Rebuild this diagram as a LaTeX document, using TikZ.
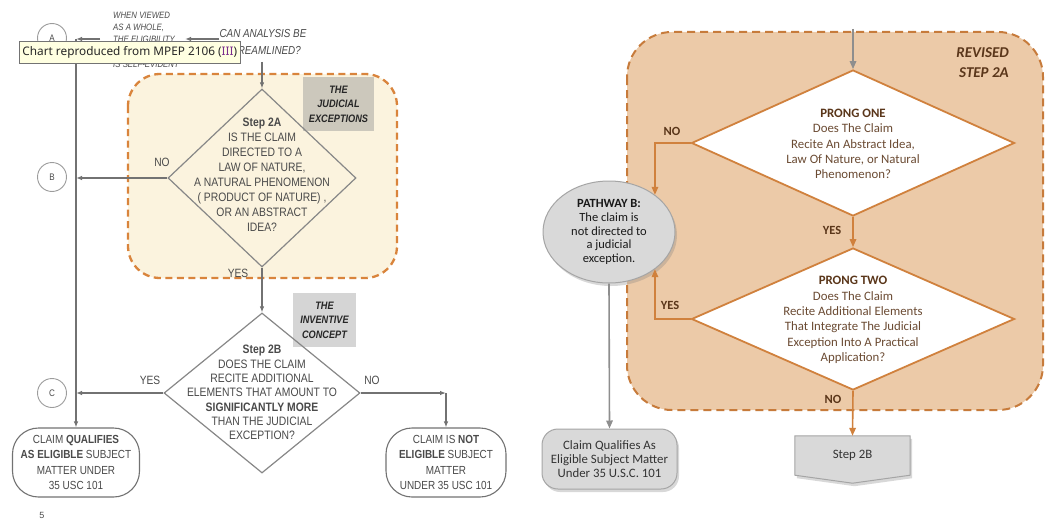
\documentclass[tikz,border=0pt]{standalone}
\usepackage{fontspec}
\setmainfont{Liberation Sans}
\newfontfamily\narrowf[FakeStretch=0.85]{Liberation Sans}
\newfontfamily\calib{Carlito}
\newfontfamily\tipf{Noto Sans}
\usetikzlibrary{shapes.geometric,arrows.meta,calc,shadows}
\definecolor{lline}{HTML}{727272}
\definecolor{ltext}{HTML}{4A4A4A}
\definecolor{cream}{HTML}{FBF3DE}
\definecolor{dorange}{HTML}{D9843C}
\definecolor{tagjc}{HTML}{CCC8BC}
\definecolor{tagic}{HTML}{D5D5D5}
\definecolor{tanfill}{HTML}{ECCAA8}
\definecolor{rorange}{HTML}{D0813D}
\definecolor{rdash}{HTML}{C77B3B}
\definecolor{brownc}{HTML}{5A361A}
\definecolor{rtext}{HTML}{6B4B33}
\definecolor{boxgray}{HTML}{D9D9D9}
\definecolor{edgegray}{HTML}{8E8E8E}
\definecolor{tipbg}{HTML}{FFFFE1}
\definecolor{tipiii}{HTML}{7B2D8E}
\begin{document}
\begin{tikzpicture}[x=1pt,y=-1pt,
  lpath/.style={draw=lline, line width=1.1pt},
  larrow/.style={lpath, -{Latex[length=6pt,width=4.5pt]}},
  lcirc/.style={circle, draw=lline!70, line width=0.9pt, minimum size=29pt, inner sep=0pt, font=\narrowf\fontsize{9.5}{9.5}\selectfont, text=ltext},
  ltxt/.style={font=\narrowf\fontsize{12.2}{15}\selectfont, text=ltext, align=center, inner sep=0pt},
  llab/.style={font=\narrowf\fontsize{12}{12}\selectfont, text=ltext, inner sep=0pt},
  ldia/.style={diamond, draw=lline!85, line width=1.2pt, inner sep=0pt},
  ltermbox/.style={draw=lline, line width=1.1pt, rounded corners=26pt, inner sep=0pt, fill=white, align=center, text=ltext, font=\narrowf\fontsize{11.7}{15.3}\selectfont},
  tagbox/.style={inner sep=0pt, font=\narrowf\bfseries\itshape\fontsize{10.8}{14.5}\selectfont, text=black!85, align=center},
  rarrow/.style={draw=rorange, line width=1.6pt, -{Triangle[length=8pt,width=6.5pt]}},
  garrow/.style={draw=edgegray, line width=1.6pt, -{Triangle[length=8pt,width=6.5pt]}},
  rdia/.style={diamond, draw=rorange, line width=1.8pt, fill=white, inner sep=0pt},
  rtxt/.style={font=\calib\fontsize{12.8}{15.3}\selectfont, text=rtext, align=center, inner sep=0pt},
  rlab/.style={font=\calib\bfseries\fontsize{12.5}{12.5}\selectfont, text=brownc, inner sep=0pt},
  gshape/.style={fill=boxgray, draw=edgegray!80, line width=1pt},
  shadowed/.style={drop shadow={opacity=0.3, shadow xshift=2pt, shadow yshift=-3pt}},
]
\useasboundingbox (0,0) rectangle (1046,527);
\fill[white] (0,0) rectangle (1046,527);

% ================= LEFT CHART =================
\draw[draw=dorange, fill=cream, line width=2.3pt, dash pattern=on 7pt off 4.5pt, rounded corners=32pt] (128,74) rectangle (397,278);
\node[tagbox, fill=tagjc, minimum width=71pt, minimum height=54pt] (tagj) at (338.5,104) {THE\\JUDICIAL\\EXCEPTIONS};
\node[tagbox, fill=tagic, minimum width=63pt, minimum height=54pt] (tagi) at (324.5,320) {THE\\INVENTIVE\\CONCEPT};

\node[font=\narrowf\itshape\fontsize{9.2}{12.3}\selectfont, text=ltext, align=left, inner sep=0pt, anchor=west] (viewed) at (113,39.5) {WHEN VIEWED\\AS A WHOLE,\\THE ELIGIBILITY\\OF THE CLAIM\\IS SELF-EVIDENT};
\node[font=\narrowf\itshape\fontsize{11.6}{17}\selectfont, text=ltext, align=center, inner sep=0pt] (stream) at (263,42) {CAN ANALYSIS BE\\STREAMLINED?};

\coordinate (mtop) at (76,39);
\node[lcirc] (ca) at (52,38) {A};
\node[lcirc] (cb) at (52,177) {B};
\node[lcirc] (cc) at (52,393) {C};

\draw[larrow] (stream.west |- 0,39) -- ($(viewed.east |- 0,39)+(6,0)$);
\draw[larrow] ($(viewed.west |- 0,39)+(-13,0)$) -- (mtop);

\node[ldia, minimum width=188pt, minimum height=178pt] (d2a) at (262,178) {};
\node[ltxt] (t2a) at (262,174.5) {\textbf{Step 2A}\\IS THE CLAIM\\DIRECTED TO A\\LAW OF NATURE,\\A NATURAL PHENOMENON\\( PRODUCT OF NATURE) ,\\OR AN ABSTRACT\\IDEA?};
\draw[larrow] ($(stream.south)+(-1,7)$) -- (d2a.north);

\node[ldia, minimum width=196pt, minimum height=160pt] (d2b) at (262,393) {};
\node[ltxt, font=\narrowf\fontsize{12.2}{14.3}\selectfont] (t2b) at (262,392.5) {\textbf{Step 2B}\\DOES THE CLAIM\\RECITE ADDITIONAL\\ELEMENTS THAT AMOUNT TO\\\textbf{SIGNIFICANTLY MORE}\\THAN THE JUDICIAL\\EXCEPTION?};

\node[ltermbox, minimum width=127pt, minimum height=69pt] (ltm) at (76,462.5) {CLAIM \textbf{QUALIFIES}\\\textbf{AS ELIGIBLE} SUBJECT\\MATTER UNDER\\35 USC 101};
\node[ltermbox, minimum width=120pt, minimum height=69pt] (rtm) at (446,462.5) {CLAIM IS \textbf{NOT}\\\textbf{ELIGIBLE} SUBJECT\\MATTER\\UNDER 35 USC 101};

\draw[larrow] (mtop) -- (ltm.north);
\draw[larrow] (d2a.west) -- (d2a.west -| mtop);
\draw[larrow] (d2a.south) -- (d2b.north);
\draw[larrow] (d2b.west) -- (d2b.west -| mtop);
\draw[larrow] (d2b.east) -- (d2b.east -| rtm.north);
\draw[larrow] (d2b.east -| rtm.north) -- (rtm.north);

\node[llab] (no1) at (162,162) {NO};
\node[llab] (yes1) at (238,273) {YES};
\node[llab] (yes2) at (150,380) {YES};
\node[llab] (no2) at (372,380) {NO};

\node[draw=black!55, fill=tipbg, line width=0.8pt, inner xsep=3pt, minimum height=22pt, minimum width=219pt, anchor=west, font=\tipf\fontsize{11.8}{12}\selectfont, text=black!85] (tip) at (19,52) {Chart reproduced from MPEP 2106 (\textcolor{tipiii}{III})};

\node[font=\fontsize{9}{9}\selectfont, text=black!70] (pg) at (42,515) {5};

% ================= RIGHT CHART =================
\draw[draw=rdash, fill=tanfill, line width=2pt, dash pattern=on 8pt off 5pt, rounded corners=45pt] (627,32) rectangle (1043,410);
\node[font=\calib\bfseries\itshape\fontsize{15}{20}\selectfont, text=brownc, align=right, anchor=east, inner sep=0pt] (rev) at (1009,63) {REVISED\\STEP 2A};

\coordinate (topin) at (853,29);
\node[rdia, minimum width=323pt, minimum height=146pt] (p1) at (853,143) {};
\node[rtxt] (tp1) at (853,144) {\textbf{\color{brownc}PRONG ONE}\\Does The Claim\\Recite An Abstract Idea,\\Law Of Nature, or Natural\\Phenomenon?};
\draw[garrow] (topin) -- (p1.north);

\node[rdia, minimum width=323pt, minimum height=142pt] (p2) at (853,319) {};
\node[rtxt] (tp2) at (853,320) {\textbf{\color{brownc}PRONG TWO}\\Does The Claim\\Recite Additional Elements\\That Integrate The Judicial\\Exception Into A Practical\\Application?};
\draw[rarrow] (p1.south) -- (p2.north);

\node[ellipse, gshape, shadowed, minimum width=132pt, minimum height=102pt, inner sep=0pt] (pw) at (609,232) {};
\node[font=\calib\fontsize{12.5}{13.8}\selectfont, text=black!90, align=center, inner sep=0pt] (tpw) at (609,232) {\textbf{PATHWAY B:}\\The claim is\\not directed to\\a judicial\\exception.};
\draw[rarrow] (p1.west) -| (pw.39);
\draw[rarrow] (p2.west) -| (pw.-39);

\node[gshape, shadowed, rounded corners=16pt, minimum width=135pt, minimum height=60pt, font=\calib\fontsize{12.8}{14}\selectfont, text=black!80, align=center, inner sep=0pt] (qual) at (609.5,459) {Claim Qualifies As\\Eligible Subject Matter\\Under 35 U.S.C. 101};
\draw[garrow] (pw.south) -- (qual.north);

\node[minimum width=115pt, minimum height=39pt, inner sep=0pt] (s2b) at (852.5,455.5) {};
\draw[gshape, shadowed] (s2b.north west) -- (s2b.north east) -- (s2b.south east) -- ($(s2b.south)+(0,8)$) -- (s2b.south west) -- cycle;
\node[font=\calib\fontsize{12.8}{14}\selectfont, text=black!80, inner sep=0pt] (s2bt) at (s2b) {Step 2B};
\draw[rarrow] (p2.south) -- (s2b.north);

\node[rlab] (no3) at (672,131) {NO};
\node[rlab] (yes3) at (832,230) {YES};
\node[rlab] (yes4) at (670,305) {YES};
\node[rlab] (no4) at (833,399) {NO};
\end{tikzpicture}
\end{document}
